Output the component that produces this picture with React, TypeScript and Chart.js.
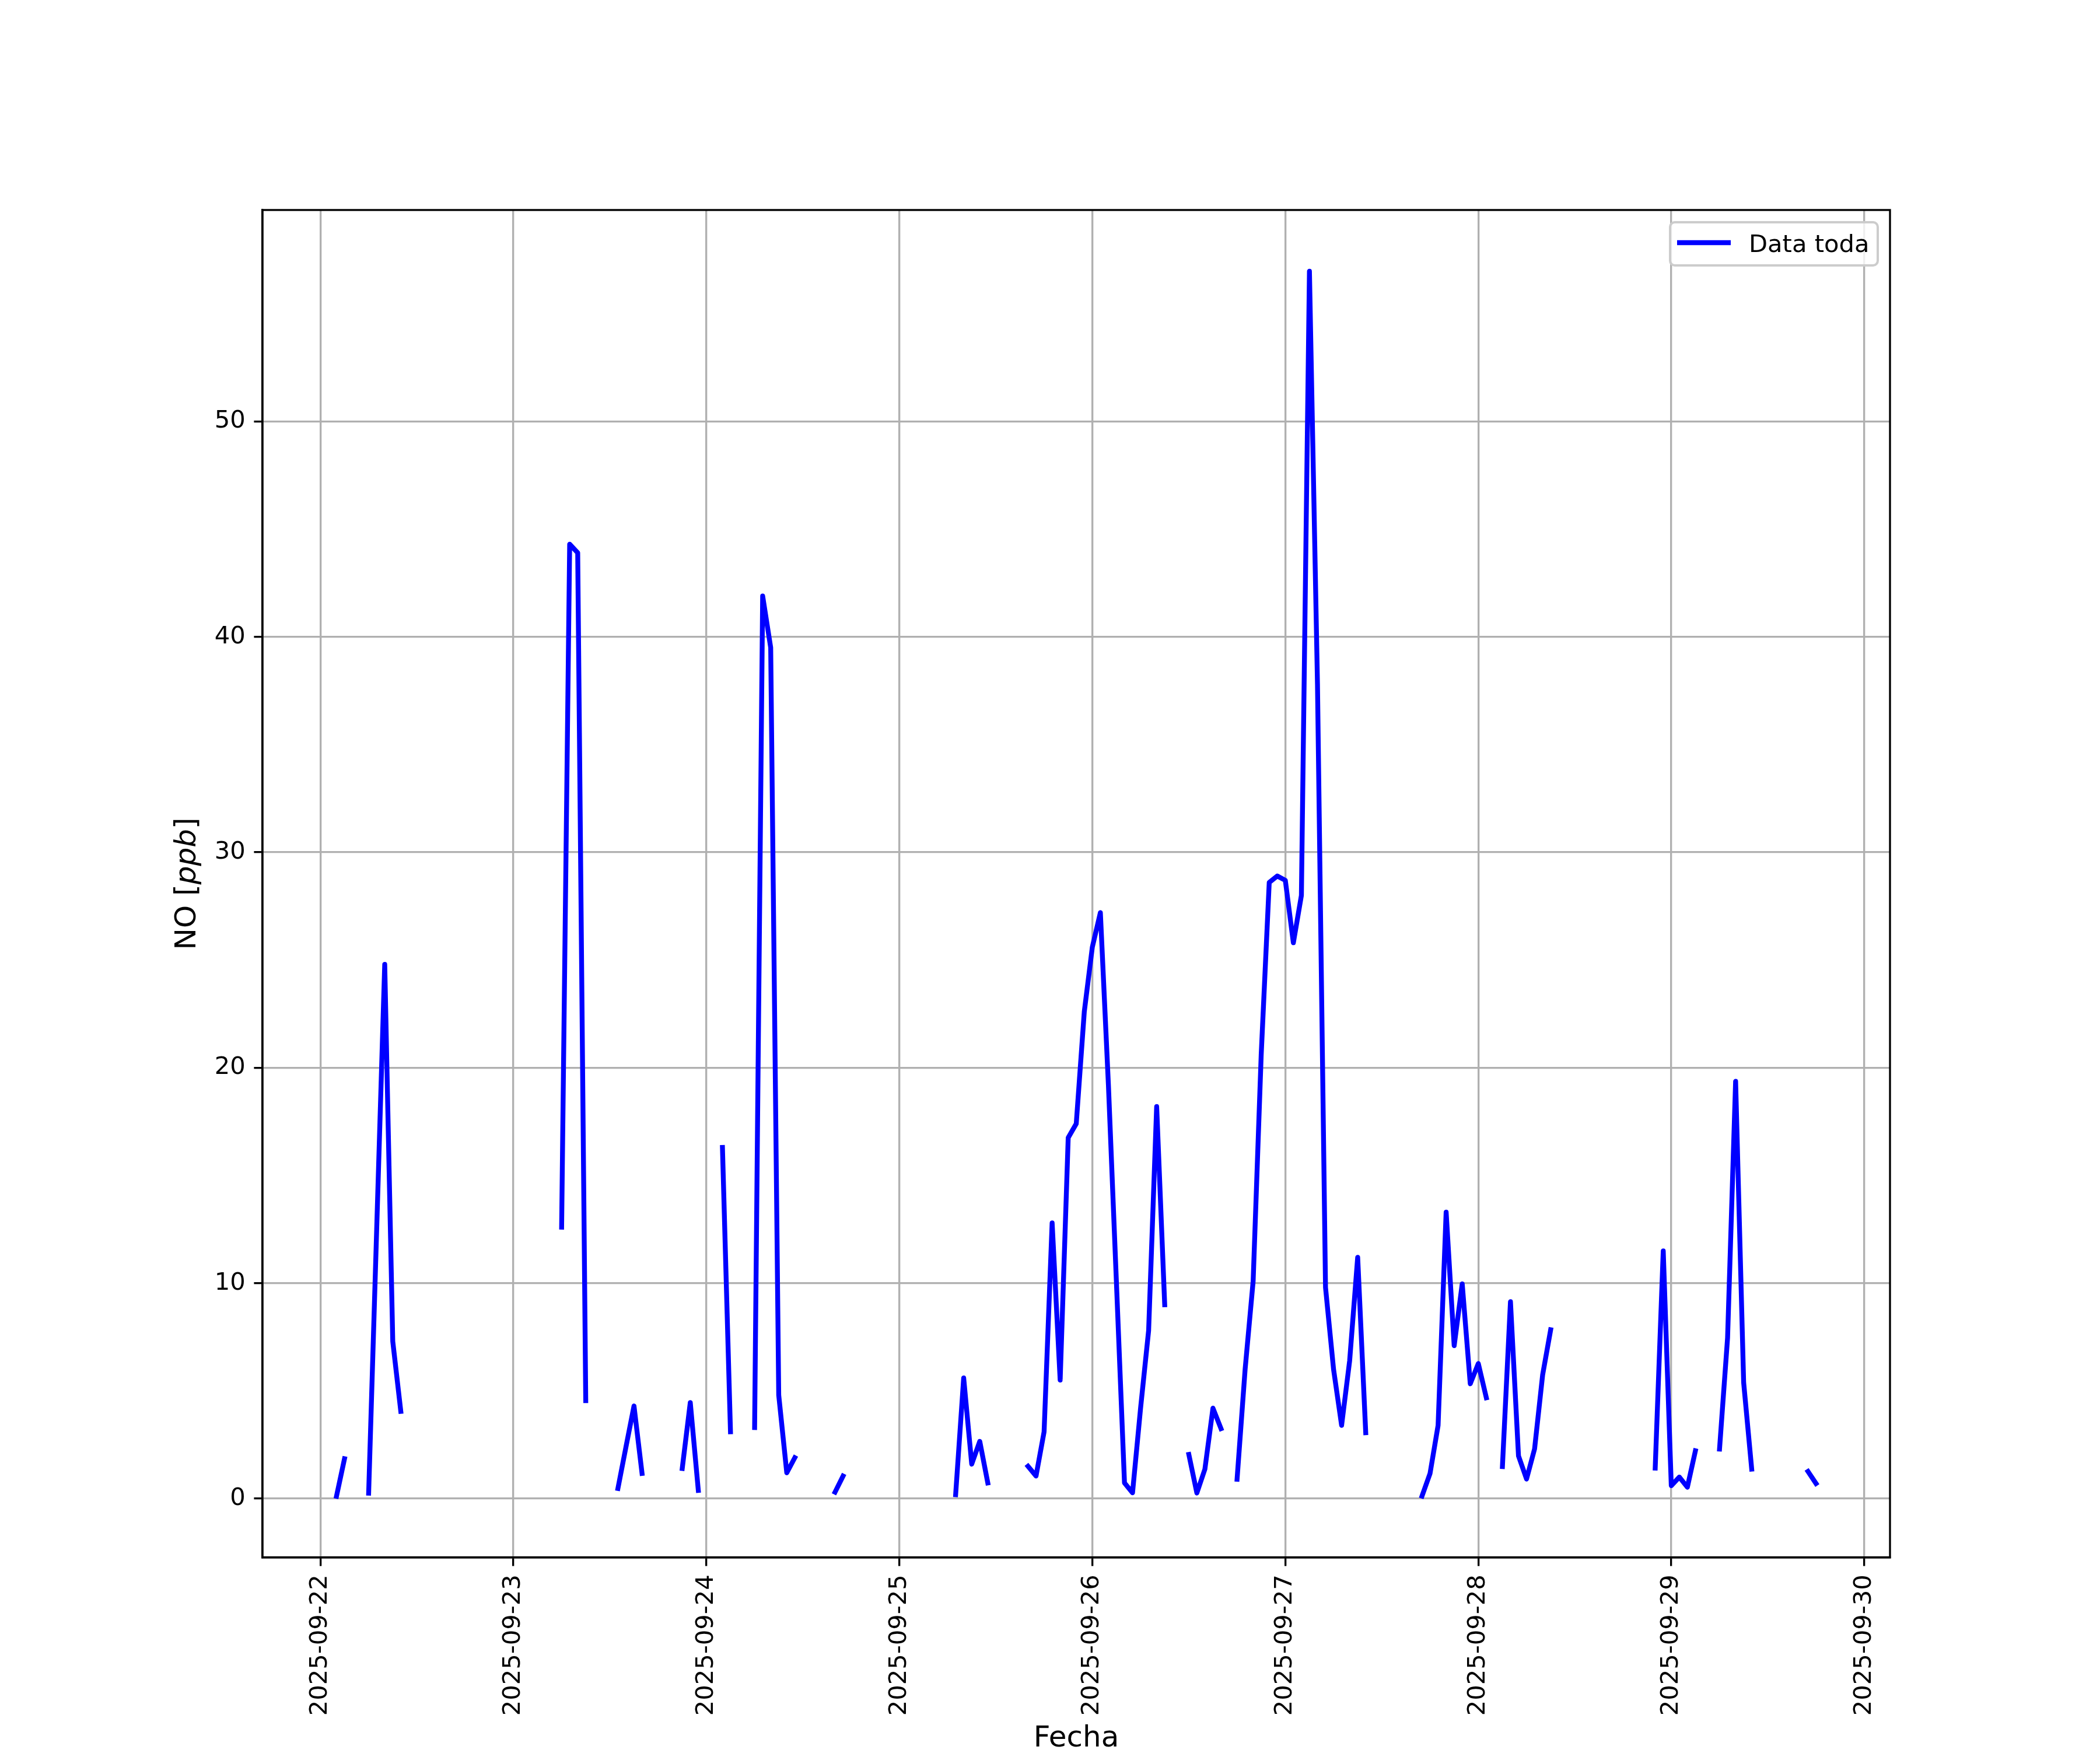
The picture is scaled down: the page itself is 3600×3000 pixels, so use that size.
import React, { useEffect, useRef } from 'react';
import { Chart, registerables } from 'chart.js';

Chart.register(...registerables);

// ---- Data (hours counted from 2025-09-22 00:00, hourly samples) ----
const seriesLabel = 'Data toda';
const segmentStartHours = [2, 6, 30, 37, 45, 50, 54, 64, 79, 88, 108, 114, 137, 147, 166, 174, 185];
const segmentValues: number[][] = [
  [0.11, 1.85],
  [0.25, 12.5, 24.8, 7.3, 4.05],
  [12.6, 44.3, 43.9, 4.55],
  [0.47, 2.4, 4.3, 1.17],
  [1.4, 4.46, 0.38],
  [16.3, 3.1],
  [3.3, 41.9, 39.5, 4.8, 1.2, 1.9],
  [0.3, 1.05],
  [0.18, 5.6, 1.6, 2.66, 0.73],
  [1.5, 1.05, 3.1, 12.8, 5.5, 16.75, 17.4, 22.6, 25.6, 27.2, 19.2, 10.0, 0.73, 0.27, 4.2, 7.8, 18.2, 9.0],
  [2.05, 0.26, 1.37, 4.2, 3.25],
  [0.9, 6.0, 10.1, 20.6, 28.6, 28.9, 28.7, 25.8, 28.0, 56.97, 37.8, 9.8, 6.0, 3.4, 6.4, 11.2, 3.06],
  [0.12, 1.17, 3.4, 13.3, 7.1, 9.97, 5.33, 6.27, 4.68],
  [1.49, 9.14, 1.98, 0.91, 2.31, 5.74, 7.84],
  [1.42, 11.5, 0.6, 1.0, 0.53, 2.22],
  [2.3, 7.46, 19.37, 5.39, 1.37],
  [1.26, 0.7],
];
const dayTickLabels = [
  '2025-09-22', '2025-09-23', '2025-09-24', '2025-09-25', '2025-09-26',
  '2025-09-27', '2025-09-28', '2025-09-29', '2025-09-30',
];
const yTickValues = [0, 10, 20, 30, 40, 50];
const xTitle = 'Fecha';

// ---- Styling ----
const FONT = '"DejaVu Sans", "Liberation Sans", sans-serif';
const W = 3600;
const H = 3000;
const LW = 3.33;
const LINE_W = 8.33;

function buildPoints() {
  const map = new Map<number, number>();
  segmentStartHours.forEach((s, i) => segmentValues[i].forEach((v, j) => map.set(s + j, v)));
  const hours = Array.from(map.keys());
  const first = Math.min(...hours);
  const last = Math.max(...hours);
  const pts: { x: number; y: number | null }[] = [];
  for (let h = first; h <= last; h++) pts.push({ x: h, y: map.has(h) ? (map.get(h) as number) : null });
  return { pts, first, last };
}

const decor = {
  id: 'decor',
  afterDraw(chart: any) {
    const { ctx, chartArea: a } = chart;
    ctx.save();
    // spines
    ctx.strokeStyle = '#000';
    ctx.lineWidth = LW;
    ctx.strokeRect(a.left, a.top, a.right - a.left, a.bottom - a.top);

    // legend
    const bx = 2863, by = 381, bw = 356, bh = 74, r = 8;
    ctx.beginPath();
    ctx.moveTo(bx + r, by);
    ctx.arcTo(bx + bw, by, bx + bw, by + bh, r);
    ctx.arcTo(bx + bw, by + bh, bx, by + bh, r);
    ctx.arcTo(bx, by + bh, bx, by, r);
    ctx.arcTo(bx, by, bx + bw, by, r);
    ctx.closePath();
    ctx.fillStyle = 'rgba(255,255,255,0.8)';
    ctx.fill();
    ctx.strokeStyle = '#cccccc';
    ctx.lineWidth = 4;
    ctx.stroke();
    ctx.beginPath();
    ctx.moveTo(2875, 416);
    ctx.lineTo(2967, 416);
    ctx.strokeStyle = '#0000ff';
    ctx.lineWidth = LINE_W;
    ctx.lineCap = 'butt';
    ctx.stroke();
    ctx.fillStyle = '#000';
    ctx.font = `41.67px ${FONT}`;
    ctx.textAlign = 'left';
    ctx.textBaseline = 'alphabetic';
    ctx.fillText(seriesLabel, 2998, 432);

    // x title
    ctx.font = `50px ${FONT}`;
    ctx.textAlign = 'center';
    ctx.fillText(xTitle, (a.left + a.right) / 2, 2994);

    // y title: NO [ppb] with italic ppb
    ctx.translate(322, (a.top + a.bottom) / 2);
    ctx.rotate(-Math.PI / 2);
    ctx.textBaseline = 'middle';
    ctx.textAlign = 'left';
    const parts: [string, string][] = [
      ['NO [', `50px ${FONT}`],
      ['ppb', `italic 50px ${FONT}`],
      [']', `50px ${FONT}`],
    ];
    let total = 0;
    for (const [t, f] of parts) { ctx.font = f; total += ctx.measureText(t).width; }
    let x = -total / 2;
    for (const [t, f] of parts) { ctx.font = f; ctx.fillText(t, x, 0); x += ctx.measureText(t).width; }
    ctx.restore();
  },
};

export default function App() {
  const ref = useRef<HTMLCanvasElement | null>(null);
  useEffect(() => {
    if (!ref.current) return;
    const { pts, first, last } = buildPoints();
    const vals = pts.filter((p) => p.y !== null).map((p) => p.y as number);
    const yMinD = Math.min(...vals), yMaxD = Math.max(...vals);
    const ySpan = yMaxD - yMinD;
    const xSpan = last - first;
    const chart = new Chart(ref.current, {
      type: 'line',
      data: {
        datasets: [
          {
            label: seriesLabel,
            data: pts as any,
            borderColor: '#0000ff',
            backgroundColor: '#0000ff',
            borderWidth: LINE_W,
            pointRadius: 0,
            spanGaps: false,
            tension: 0,
            borderCapStyle: 'square',
            borderJoinStyle: 'round',
          },
        ],
      },
      options: {
        responsive: false,
        animation: false,
        devicePixelRatio: 1,
        parsing: true,
        layout: { padding: { left: 0, top: 360, right: 360, bottom: 0 } },
        plugins: { legend: { display: false }, tooltip: { enabled: false } },
        scales: {
          x: {
            type: 'linear',
            min: first - 0.05 * xSpan,
            max: last + 0.05 * xSpan,
            afterBuildTicks: (s: any) => {
              s.ticks = dayTickLabels.map((_, i) => ({ value: i * 24 }));
            },
            afterFit: (s: any) => {
              s.height = 330;
            },
            ticks: {
              autoSkip: false,
              minRotation: 90,
              maxRotation: 90,
              padding: 14.6,
              color: '#000',
              font: { family: FONT, size: 41.67 },
              callback: (v: any) => dayTickLabels[Math.round(Number(v) / 24)] ?? '',
            },
            grid: { color: '#b0b0b0', lineWidth: LW, tickLength: 14.6, tickColor: '#000', tickWidth: LW },
            border: { color: '#000', width: LW },
          },
          y: {
            type: 'linear',
            min: yMinD - 0.05 * ySpan,
            max: yMaxD + 0.05 * ySpan,
            afterBuildTicks: (s: any) => {
              s.ticks = yTickValues.map((v) => ({ value: v }));
            },
            afterFit: (s: any) => {
              s.width = 450;
            },
            ticks: {
              padding: 14.6,
              color: '#000',
              font: { family: FONT, size: 41.67 },
              callback: (v: any) => String(v),
            },
            grid: { color: '#b0b0b0', lineWidth: LW, tickLength: 14.6, tickColor: '#000', tickWidth: LW },
            border: { color: '#000', width: LW },
          },
        },
      },
      plugins: [decor],
    } as any);
    return () => chart.destroy();
  }, []);
  return (
    <div style={{ position: 'absolute', left: 0, top: 0, width: W, height: H, background: '#fff' }}>
      <canvas ref={ref} width={W} height={H} style={{ display: 'block', width: W, height: H }} />
    </div>
  );
}
